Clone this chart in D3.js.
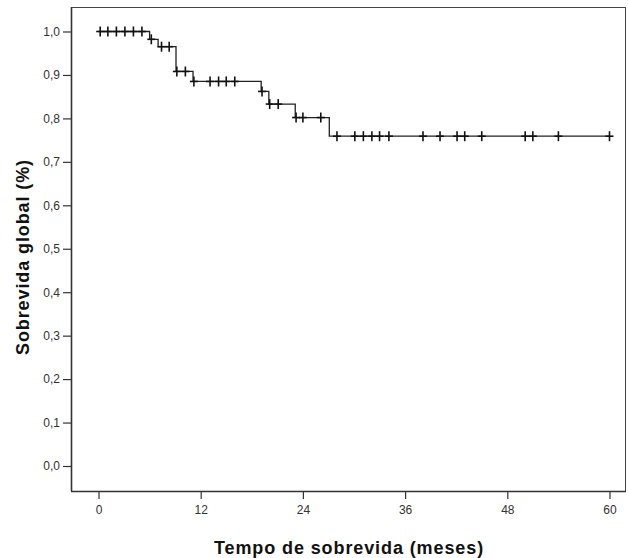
<!DOCTYPE html>
<html><head><meta charset="utf-8">
<script src="https://cdn.jsdelivr.net/npm/d3@7"></script>
<style>body{margin:0;background:#fff}svg{display:block}</style>
</head><body>
<svg id="c" width="628" height="558"></svg>
<script>
// Kaplan-Meier step curve (time in months, survival proportion)
const stepTimes = [0, 6.0, 7.0, 9.1, 11.1, 19.1, 20.0, 23.1, 27.1];
const stepSurv  = [1.0, 0.982, 0.965, 0.908, 0.885, 0.862, 0.833, 0.802, 0.759];
const endTime = 60;
// censored observations (months)
const censorTimes = [0.2, 1.1, 2.1, 3.1, 4.1, 5.1, 6.2, 7.4, 8.3, 9.2, 10.2, 11.2,
  13.1, 14.1, 15.0, 16.0, 19.2, 20.1, 21.1, 23.2, 24.0, 26.1, 28.0, 30.1, 31.1, 32.1,
  33.0, 34.1, 38.1, 40.1, 42.1, 43.0, 45.0, 50.1, 51.0, 54.0, 60.0];
const xTicks = [0, 12, 24, 36, 48, 60];
const yTicks = [0, 0.1, 0.2, 0.3, 0.4, 0.5, 0.6, 0.7, 0.8, 0.9, 1.0];
const xTitle = "Tempo de sobrevida (meses)";
const yTitle = "Sobrevida global (%)";

const svg = d3.select("#c");
const frame = {l: 71, t: 7, r: 626, b: 491};
const x = d3.scaleLinear().domain([0, 60]).range([98.5, 609.5]);
const y = d3.scaleLinear().domain([0, 1]).range([466, 31.5]);

svg.append("rect").attr("x", frame.l + 0.5).attr("y", frame.t + 0.5)
  .attr("width", frame.r - frame.l - 1).attr("height", frame.b - frame.t)
  .attr("fill", "#fff").attr("stroke", "#444").attr("stroke-width", 1);

const fmt = d => d3.format(".1f")(d).replace(".", ",");
const yAxis = d3.axisLeft(y).tickValues(yTicks).tickFormat(fmt).tickSize(8).tickPadding(3);
const gy = svg.append("g").attr("transform", `translate(${frame.l},0)`).call(yAxis);
gy.select(".domain").attr("d", `M0.5,${frame.t}V${frame.b}`).attr("stroke", "#333").attr("stroke-width", 1.6);
const xAxis = d3.axisBottom(x).tickValues(xTicks).tickSize(8).tickPadding(6);
const gx = svg.append("g").attr("transform", `translate(0,${frame.b})`).call(xAxis);
gx.select(".domain").attr("d", `M${frame.l},0.5H${frame.r}`).attr("stroke", "#333").attr("stroke-width", 1.6);
[gx, gy].forEach(g => {
  g.selectAll(".tick line").attr("stroke", "#333").attr("stroke-width", 1.2);
  g.selectAll("text").attr("fill", "#333").style("font-family", "Liberation Sans, Arial, sans-serif").style("font-size", "12px");
});

// step function
function survAt(t) {
  let s = stepSurv[0];
  for (let i = 0; i < stepTimes.length; i++) if (stepTimes[i] <= t) s = stepSurv[i];
  return s;
}
const pts = stepTimes.map((t, i) => [t, stepSurv[i]]);
pts.push([endTime, stepSurv[stepSurv.length - 1]]);
const line = d3.line().x(d => x(d[0])).y(d => y(d[1])).curve(d3.curveStepAfter);
svg.append("path").datum(pts).attr("d", line).attr("fill", "none")
  .attr("stroke", "#222").attr("stroke-width", 1.3);

const cs = svg.append("g").attr("stroke", "#111").attr("stroke-width", 1.6);
censorTimes.forEach(t => {
  const cx = x(t), cy = y(survAt(t));
  cs.append("line").attr("x1", cx).attr("x2", cx).attr("y1", cy - 5).attr("y2", cy + 5);
  cs.append("line").attr("x1", cx - 4).attr("x2", cx + 4).attr("y1", cy).attr("y2", cy);
});

svg.append("text").attr("x", 349).attr("y", 554).attr("text-anchor", "middle")
  .style("font-family", "Liberation Sans, Arial, sans-serif").style("font-weight", "bold")
  .style("font-size", "18px").style("letter-spacing", "0.9px").attr("fill", "#111").text(xTitle);
svg.append("text").attr("transform", "translate(29,257) rotate(-90)").attr("text-anchor", "middle")
  .style("font-family", "Liberation Sans, Arial, sans-serif").style("font-weight", "bold")
  .style("font-size", "18px").style("letter-spacing", "0.9px").attr("fill", "#111").text(yTitle);
</script>
</body></html>
